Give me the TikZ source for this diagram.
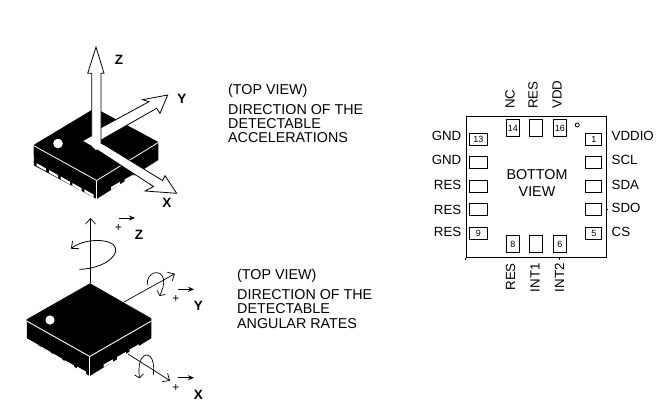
\documentclass[tikz,border=0pt]{standalone}
\usepackage{fontspec}
\setmainfont{Liberation Sans}
\usetikzlibrary{arrows.meta}
\tikzset{
 lab/.style={font=\fontsize{13.3}{13}\selectfont,inner sep=0pt,text=black},
 para/.style={font=\fontsize{14.3}{14}\selectfont,inner sep=0pt,align=left,anchor=north west,text=black},
 axl/.style={font=\fontsize{13.5}{14}\bfseries\selectfont,inner sep=0pt,text=black},
 pad/.style={draw=black,line width=.9pt,fill=white,inner sep=0pt},
 plus/.style={font=\fontsize{12}{12}\selectfont,inner sep=0pt,text=black},
 bigarrow/.style={draw=black,fill=white,line width=.8pt,line join=miter},
 oarrow/.style={draw=black,line width=.7pt,-{Straight Barb[length=5.5pt,width=10pt]}},
 sarrow/.style={draw=black,line width=.8pt,-{Stealth[length=6pt,width=5pt]}},
}
\newcommand{\lpad}[2]{\fill[white] (#1,#2) -- ++(9.2,5.2) -- ++(0,2.7) -- ++(-9.2,-5.2) -- cycle;}
\newcommand{\rpad}[2]{\fill[white] (#1,#2) -- ++(9.2,-5.2) -- ++(0,2.7) -- ++(-9.2,5.2) -- cycle;}
\begin{document}
\begin{tikzpicture}[x=1pt,y=-1pt]
\useasboundingbox (0,0) rectangle (672,407);
% accelerometer chip
\fill[black] (33.5,145) -- (95,108) -- (158.3,142) -- (158.3,160) -- (96.7,199) -- (34,165.5) -- cycle;
\draw[white,line width=.8pt] (33.5,145.5) -- (96.7,180.5) -- (158.3,142.5);
\draw[white,line width=.7pt] (96.7,180.5) -- (96.7,199);
\lpad{36.7}{163.2}\lpad{49}{170}\lpad{60.7}{176.5}\lpad{72.3}{183}\lpad{84.3}{189.3}
\rpad{111}{187}\rpad{124.5}{179.5}
\fill[white] (58,143.5) circle (4.8);
% arrows
\filldraw[bigarrow] (101,127.7) -- (149,101.7) -- (142.7,99.7) -- (167.7,95) -- (160,113.3) -- (156.7,108.3) -- (101,140) -- cycle;
\filldraw[bigarrow] (93.3,147.3) -- (153.5,186.5) -- (145,191) -- (176.7,193.3) -- (165,175.7) -- (162.5,180.5) -- (103,144) -- cycle;
\filldraw[bigarrow] (82.3,141) -- (91.7,135.7) -- (91.7,73.3) -- (87.7,73.3) -- (96,47) -- (104,73.3) -- (101,73.3) -- (101,144) -- (93.3,147.3) -- cycle;
\fill[white] (101.5,128.5) -- (103,128) -- (103,138.5) -- (101.5,139.2) -- cycle;
\fill[white] (92,146.2) -- (100.5,143.5) -- (104,145.6) -- (96,150) -- cycle;
\node[axl] (az) at (119,60) {Z};
\node[axl] (ay) at (182,98.5) {Y};
\node[axl] (ax) at (167,203) {X};
\node[para] (t1) at (228,84) {(TOP VIEW)};
\node[para] (t2) at (228,104) {DIRECTION OF THE\\DETECTABLE\\ACCELERATIONS};
% gyro chip
\fill[black] (26.7,319.3) -- (90,283.3) -- (151.3,318.3) -- (151.3,338.3) -- (89.7,376) -- (27,338.3) -- cycle;
\draw[white,line width=.9pt] (26.7,321) -- (89.7,356.5) -- (151.3,321);
\draw[white,line width=.7pt] (89.7,356.5) -- (89.7,376);
\lpad{28.7}{339.5}\lpad{41.3}{346.8}\lpad{53}{353.5}\lpad{64.7}{360.2}\lpad{77}{366.5}
\rpad{103.7}{364.5}\rpad{117}{357}\rpad{129.7}{349.5}
\fill[white] (50,320) circle (4.6);
% gyro axes
\coordinate (zb) at (90.5,283.3);
\coordinate (zt) at (90.5,218);
\draw[oarrow] (zb) -- (zt);
\draw[oarrow,line width=.8pt] (79.3,269.3) .. controls (100,269) and (118,258) .. (115.5,248) .. controls (113,238) and (84,238) .. (71,248.7);
\coordinate (yb) at (124,302);
\coordinate (yt) at (175,273.7);
\draw[oarrow] (yb) -- (yt);
\draw[oarrow,-{Straight Barb[length=3.5pt,width=9pt]}] (147.3,285) .. controls (146,272) and (161,268) .. (163.5,279) .. controls (164.5,285) and (162,291) .. (159.5,296);
\coordinate (xb) at (128,354);
\coordinate (xt) at (170,380.7);
\draw[oarrow] (xb) -- (xt);
\draw[oarrow,-{Straight Barb[length=3.5pt,width=9pt]}] (153.3,375) .. controls (155,362) and (151,354.5) .. (146.7,355) .. controls (140,355.5) and (138,366) .. (139.5,378.3);
\draw[sarrow] (119.3,218) -- (135,218);
\draw[sarrow] (178.3,289.3) -- (194,289.3);
\draw[sarrow] (178.3,377.7) -- (194,377.7);
\node[plus] (p1) at (118.3,227.7) {+};
\node[plus] (p2) at (176,298.7) {+};
\node[plus] (p3) at (176,387.7) {+};
\node[axl] (gz) at (139,235) {Z};
\node[axl] (gy) at (198.3,305.5) {Y};
\node[axl] (gx) at (198.3,395) {X};
\node[para] (t3) at (237,269) {(TOP VIEW)};
\node[para,font=\fontsize{14.3}{14.5}\selectfont] (t4) at (237,289) {DIRECTION OF THE\\DETECTABLE\\ANGULAR RATES};
% bottom view
\node[draw=black,line width=.9pt,minimum width=140.5pt,minimum height=141pt,inner sep=0pt,anchor=north west] (pkg) at (465.5,115.7) {};
\draw[line width=.7pt] (pkg.south west) -- ++(0,2);
\draw[line width=.7pt] ([xshift=94pt]pkg.south west) -- ++(0,2);
\draw[line width=.7pt] ([yshift=48.5pt]pkg.south east) -- ++(1.5,0);
\node[font=\fontsize{14.3}{16.5}\selectfont,align=center,inner sep=0pt,text=black] (bv) at (537,183) {BOTTOM\\VIEW};
\foreach \n/\x/\y/\t in {pa/469.3/132.5/13,pb/469.3/156/,pc/469.3/179.5/,pd/469.3/203/,pe/469.3/226.7/9}{
 \node[pad,minimum width=17.4pt,minimum height=12pt,anchor=north west] (\n) at (\x,\y) {\fontsize{9}{9}\selectfont\t};}
\foreach \n/\x/\y/\t in {pf/585.3/132.5/1,pg/585.3/156/,ph/585.3/179.5/,pi/585.3/203/,pj/585.3/226.7/5}{
 \node[pad,minimum width=16pt,minimum height=12pt,anchor=north west] (\n) at (\x,\y) {\fontsize{9}{9}\selectfont\t};}
\foreach \n/\x/\y/\t in {pk/506.3/119/14,pl/529.3/119/,pm/553.3/119/16,pn/506.3/235/8,po/529.3/235/,pp/553.3/235/6}{
 \node[pad,minimum width=12.2pt,minimum height=17pt,anchor=north west] (\n) at (\x,\y) {\fontsize{9}{9}\selectfont\t};}
\draw[line width=.8pt] (577.3,125) circle (2);
\foreach \n/\y/\t in {a/136/GND,b/160/GND,c/184.5/RES,d/210/RES,e/232/RES}{
 \node[lab,anchor=east] (l\n) at (461.5,\y) {\t};}
\foreach \n/\y/\t in {f/136/VDDIO,g/160/SCL,h/184.5/SDA,i/208/SDO,j/231.5/CS}{
 \node[lab,anchor=west] (l\n) at (611.5,\y) {\t};}
\foreach \n/\x/\t in {k/510/NC,l/533/RES,m/557/VDD}{
 \node[lab,rotate=90,anchor=west] (l\n) at (\x,109) {\t};}
\foreach \n/\x/\t in {n/510.5/RES,o/535/INT1,p/559.5/INT2}{
 \node[lab,rotate=90,anchor=east] (l\n) at (\x,263) {\t};}
\end{tikzpicture}
\end{document}
